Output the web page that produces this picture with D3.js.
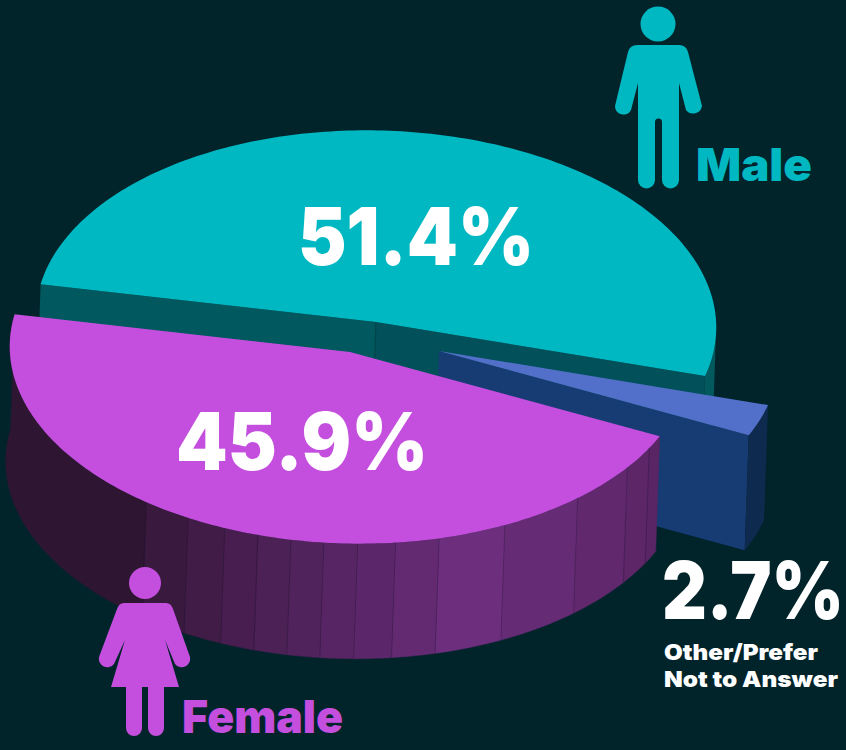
<!DOCTYPE html>
<html>
<head>
<meta charset="utf-8">
<style>
    html, body { margin: 0; padding: 0; background: #01242b; }
    svg { display: block; }
    text { font-family: Inter, "Open Sans", sans-serif; font-weight: 900; }
</style>
<script src="https://cdn.jsdelivr.net/npm/d3@7"></script>
</head>
<body>
<svg id="chart"></svg>
<script>
'use strict';

(function () {
    const categories = ['Male', 'Other/Prefer Not to Answer', 'Female'];
    const shares = [51.4, 2.7, 45.9];
    const shareLabels = ['51.4%', '2.7%', '45.9%'];

    // where the shading steps on the female wall, degrees clockwise from north
    const femaleFacets = [107.4, 114.4, 127, 141.9, 153.8, 161.3, 167.7, 173.4, 179, 184.7, 190.6, 197.4, 205.8];

    const width = 846;
    const height = 750;

    const svg = d3.select('#chart')
        .attr('width', width)
        .attr('height', height);

    const rad = Math.PI / 180;

    const slices = d3.pie()
        .sort(null)
        .value(d => d)
        .startAngle(-91.3 * rad)
        .endAngle(268.7 * rad)(shares);

    // tilted disc: unit circle onto the picture plane
    const project = (angle, origin, drop) => {
        const c = Math.sin(angle);
        const s = -Math.cos(angle);
        return [
            origin[0] + 334 * c - 65 * s - (drop ? 4 : 0),
            origin[1] + 42 * c + 187 * s + (drop ? 115 : 0)
        ];
    };

    const arcPoints = (a0, a1, origin, drop) => {
        const n = Math.max(2, Math.ceil(Math.abs(a1 - a0) / rad));
        return d3.range(n + 1).map(i => project(a0 + (a1 - a0) * i / n, origin, drop));
    };

    const line = d3.line();

    const topFace = (slice, origin) => line([origin, ...arcPoints(slice.startAngle, slice.endAngle, origin, false)]) + 'Z';

    const rimFace = (a0, a1, origin) => line([
        ...arcPoints(a0, a1, origin, false),
        ...arcPoints(a1, a0, origin, true)
    ]) + 'Z';

    const radialWall = (angle, origin) => {
        const tip = project(angle, origin, false);
        const tipLow = project(angle, origin, true);
        return line([origin, tip, tipLow, [origin[0] - 4, origin[1] + 115]]) + 'Z';
    };

    const [male, other, female] = slices;
    const maleAt = [376, 322];
    const otherAt = [439, 351];
    const femaleAt = [350, 352];

    // male, back piece
    const maleG = svg.append('g');
    maleG.append('path')
        .attr('d', radialWall(male.startAngle, maleAt))
        .attr('fill', '#01585e');
    maleG.append('path')
        .attr('d', radialWall(male.endAngle, maleAt))
        .attr('fill', '#01505a');
    maleG.append('path')
        .attr('d', rimFace(male.endAngle, male.endAngle - 12 * rad, maleAt))
        .attr('fill', '#02595e');
    maleG.append('path')
        .attr('d', line([maleAt, [maleAt[0] - 4, maleAt[1] + 115]]))
        .attr('stroke', '#01444b')
        .attr('stroke-width', 1);
    maleG.append('path')
        .attr('d', topFace(male, maleAt))
        .attr('fill', '#00b8c2');

    // other, pulled out to the right
    const otherG = svg.append('g');
    otherG.append('path')
        .attr('d', radialWall(other.endAngle, otherAt))
        .attr('fill', '#173c73');
    otherG.append('path')
        .attr('d', rimFace(other.startAngle, other.endAngle, otherAt))
        .attr('fill', '#0e2b4f');
    otherG.append('path')
        .attr('d', topFace(other, otherAt))
        .attr('fill', '#5270ca');

    // female wall facets, lighter toward the right
    const facetColor = d3.scaleLinear()
        .domain([105, 148, 201, 237])
        .range(['#5a2564', '#6c2e7d', '#3a193f', '#2e1632']);

    const bounds = [female.startAngle / rad, ...femaleFacets, female.endAngle / rad];

    const femaleG = svg.append('g');
    femaleG.selectAll('path.facet')
        .data(d3.pairs(bounds))
        .join('path')
        .attr('class', 'facet')
        .attr('d', d => rimFace(d[0] * rad, d[1] * rad, femaleAt))
        .attr('fill', d => facetColor((d[0] + d[1]) / 2))
        .attr('stroke', d => facetColor((d[0] + d[1]) / 2))
        .attr('stroke-width', 0.5);
    femaleG.selectAll('path.seam')
        .data(femaleFacets)
        .join('path')
        .attr('class', 'seam')
        .attr('d', d => line([project(d * rad, femaleAt, false), project(d * rad, femaleAt, true)]))
        .attr('stroke', '#1d0f2a')
        .attr('stroke-opacity', 0.25)
        .attr('stroke-width', 1);
    femaleG.append('path')
        .attr('d', topFace(female, femaleAt))
        .attr('fill', '#c44fde');

    // people
    svg.append('circle')
        .attr('cx', 658).attr('cy', 24).attr('r', 17.5)
        .attr('fill', '#00b8c2');
    svg.append('path')
        .attr('fill', '#00b8c2')
        .attr('d', 'M637,45 L679,45 Q686,45 688,52 L702,106 A9,9 0 0 1 686,110 L679,83 L679,180 A8.5,8.5 0 0 1 662,180 L662,122 A3.5,3.5 0 0 0 655,122 L655,180 A8.5,8.5 0 0 1 638,180 L638,83 L631,110 A8.5,8.5 0 0 1 615,106 L628,52 Q630,45 637,45 Z');

    svg.append('circle')
        .attr('cx', 145).attr('cy', 583).attr('r', 16)
        .attr('fill', '#c44fde');
    svg.append('path')
        .attr('fill', '#c44fde')
        .attr('d', 'M124,603 L166,603 Q171,603 173,609 L190,657 A8.5,8.5 0 0 1 175,664 L165,640 L179,687 L164,687 L164,728 A8,8 0 0 1 148,728 L148,687 L142,687 L142,728 A8,8 0 0 1 126,728 L126,687 L111,687 L125,640 L114,664 A8.5,8.5 0 0 1 99,657 L117,609 Q119,603 124,603 Z');

    // labels
    const label = (str, x, y, size, fill, fit) => svg.append('text')
        .attr('x', x)
        .attr('y', y)
        .attr('font-size', size)
        .attr('fill', fill)
        .attr('textLength', fit)
        .attr('lengthAdjust', 'spacingAndGlyphs')
        .text(str);

    label(shareLabels[0], 298, 265, 80, '#ffffff', 236);
    label(shareLabels[2], 176, 470, 80, '#ffffff', 252);
    label(shareLabels[1], 844, 619, 80, '#ffffff', 182)
        .attr('text-anchor', 'end');
    const [otherTop, otherBottom] = ['Other/Prefer', 'Not to Answer'];
    label(otherTop, 664, 660, 22, '#ffffff', 154);
    label(otherBottom, 664, 687, 22, '#ffffff', 174);
    label(categories[0], 696, 181, 46, '#00b8c2', 116);
    label(categories[2], 182, 733, 45, '#c44fde', 161);
})();
</script>
</body>
</html>
